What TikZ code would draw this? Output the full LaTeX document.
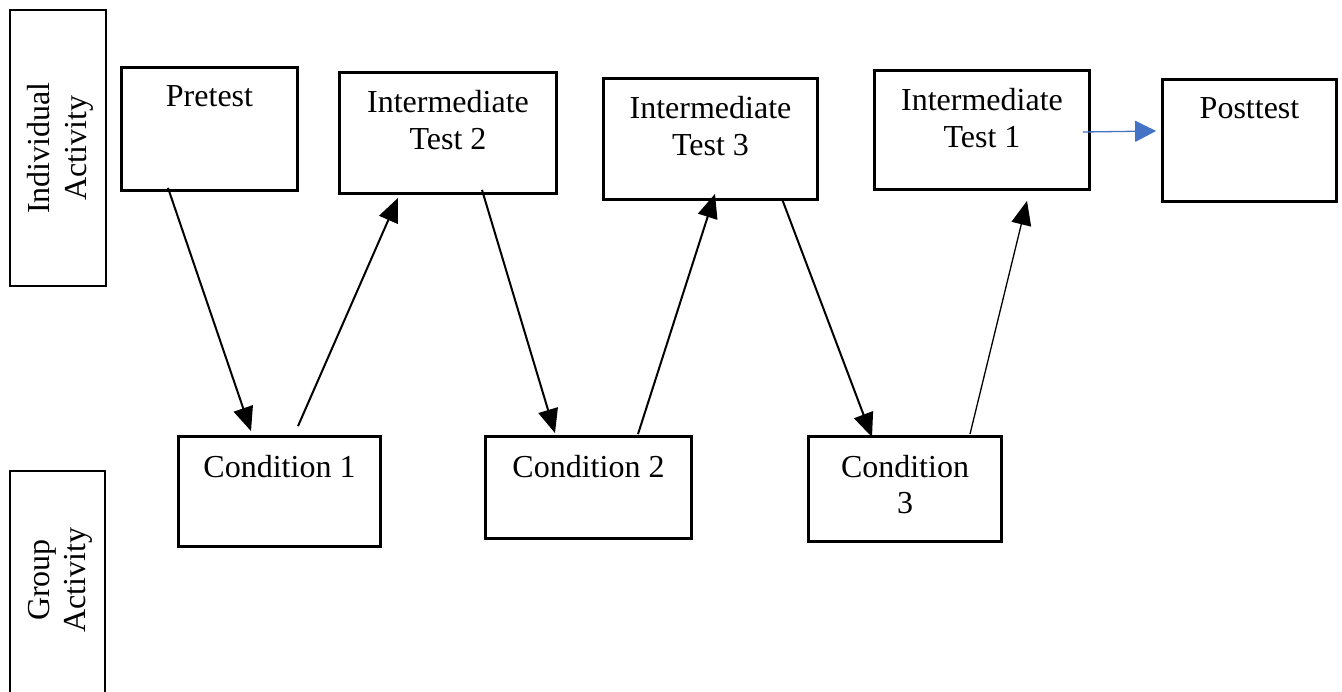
\documentclass[tikz,border=0pt]{standalone}
\usepackage{fontspec}
\setmainfont{Liberation Serif}
\usetikzlibrary{arrows.meta,calc}
\definecolor{linkblue}{HTML}{4472C4}
\tikzset{
  sidebox/.style={draw, line width=2pt, inner sep=0pt},
  stagebox/.style={draw, line width=2.8pt, inner sep=0pt},
  lbl/.style={font=\fontsize{32}{36.7}\selectfont, align=center, inner sep=0pt, anchor=north},
  sidelbl/.style={font=\fontsize{32}{36.7}\selectfont, align=center, inner sep=0pt, rotate=90},
  flow/.style={line width=2pt, -{Triangle[length=24pt,width=20pt]}},
  thinflow/.style={line width=1.3pt, -{Triangle[length=24pt,width=20pt]}},
  blueflow/.style={draw=linkblue, line width=1.3pt, -{Triangle[length=21pt,width=21pt,fill=linkblue]}},
}
\begin{document}
\begin{tikzpicture}[x=1pt,y=1pt]
  \useasboundingbox (0,0) rectangle (1342,-692);

  % row headings
  \node[sidebox, minimum width=96, minimum height=276] (ind) at (57.5,-148) {};
  \node[sidelbl] (ind-l) at (60.5,-148) {Individual\\Activity};
  \node[sidebox, minimum width=95, minimum height=224] (grp) at (57.5,-583) {};
  \node[sidelbl] (grp-l) at (60.5,-580) {Group\\Activity};

  % individual activities
  \node[stagebox, minimum width=176, minimum height=123] (pre)  at (209.5,-129)  {};
  \node[stagebox, minimum width=217, minimum height=121] (it2)  at (448,-133)    {};
  \node[stagebox, minimum width=214, minimum height=121] (it3)  at (710.5,-139)  {};
  \node[stagebox, minimum width=215, minimum height=119] (it1)  at (982,-130)    {};
  \node[stagebox, minimum width=174, minimum height=122] (post) at (1249.5,-140.5) {};

  % group activities
  \node[stagebox, minimum width=202, minimum height=110] (c1) at (279.5,-491.5) {};
  \node[stagebox, minimum width=206, minimum height=102] (c2) at (588.5,-487.5) {};
  \node[stagebox, minimum width=193, minimum height=105] (c3) at (905,-489)     {};

  % box texts
  \node[lbl] (pre-l)  at ($(pre.north)+(0,-19.5)$)  {Pretest};
  \node[lbl] (it2-l)  at ($(it2.north)+(0,-19.5)$)  {Intermediate\\Test 2};
  \node[lbl] (it3-l)  at ($(it3.north)+(0,-19.5)$)  {Intermediate\\Test 3};
  \node[lbl] (it1-l)  at ($(it1.north)+(0,-19.5)$)  {Intermediate\\Test 1};
  \node[lbl] (post-l) at ($(post.north)+(0,-19.5)$) {Posttest};
  \node[lbl] (c1-l)   at ($(c1.north)+(0,-19.5)$)   {Condition 1};
  \node[lbl] (c2-l)   at ($(c2.north)+(0,-19.5)$)   {Condition 2};
  \node[lbl] (c3-l)   at ($(c3.north)+(0,-19.5)$)   {Condition\\3};

  % zig-zag between individual and group work
  \draw[flow] ($(pre.south)+(-41.5,4)$) -- ($(c1.north)+(-28.5,4)$);
  \draw[flow] ($(c1.north)+(18.5,9)$)   -- ($(it2.south)+(-50,-3)$);
  \draw[flow] ($(it2.south)+(34,5)$)    -- ($(c2.north)+(-33.5,2)$);
  \draw[flow] ($(c2.north)+(49.5,1)$)   -- ($(it3.south)+(4.5,7)$);
  \draw[flow] ($(it3.south)+(71.5,2)$)  -- ($(c3.north)+(-33,-2)$);
  \draw[thinflow] ($(c3.north)+(65,1)$) -- ($(it1.south)+(45,-10)$);
  \draw[blueflow] ($(it1.east)+(-8,-2)$) -- ($(post.west)+(-5,9.5)$);
\end{tikzpicture}
\end{document}
